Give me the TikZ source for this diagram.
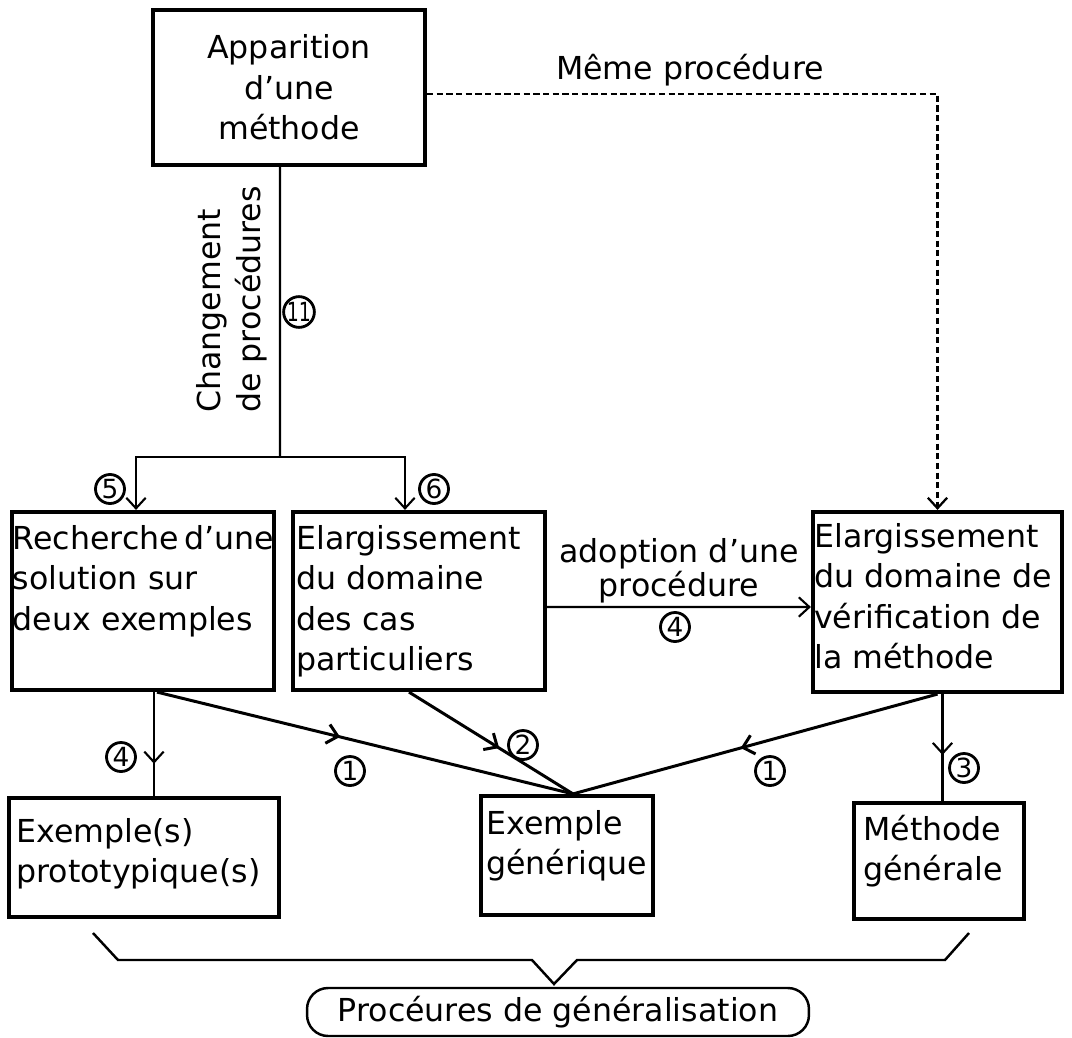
\documentclass[tikz,border=0pt]{standalone}
\usepackage{fontspec}
\setmainfont{DejaVu Sans}
\usetikzlibrary{arrows.meta,positioning,decorations.markings}
\newcommand{\bigtxt}{\fontsize{18}{23}\selectfont}
\tikzset{
  box/.style={draw,line width=2.4pt,inner sep=0pt},
  boxtext/.style={anchor=north west,align=left,inner sep=0pt,font=\bigtxt},
  numcirc/.style={circle,draw,line width=1.6pt,inner sep=0pt,minimum size=0.58cm,
    font=\fontsize{15}{15}\selectfont},
  arrow/.style={-{Straight Barb[length=6pt,width=11pt]},line width=1.2pt},
  link/.style={line width=#1,postaction={decorate}},
  link/.default=1.2pt,
  tipat/.style={decoration={markings,mark=at position #1 with
    {\arrow{Straight Barb[length=6pt,width=11pt]}}}}
}

\begin{document}
\begin{tikzpicture}[x=0.02cm,y=-0.02cm]
\useasboundingbox (0,0) rectangle (1072,1038);

% boxes
\node[box,minimum width=5.44cm,minimum height=3.1cm,align=center,font=\bigtxt]
  (appar) at (289,87.5) {Apparition\\d'une\\méthode};
\node[box,minimum width=5.24cm,minimum height=3.56cm] (search) at (143,601) {};
\node[box,minimum width=5.04cm,minimum height=3.56cm] (cases) at (419,601) {};
\node[box,minimum width=4.98cm,minimum height=3.6cm] (verif) at (937.5,602) {};
\node[box,minimum width=5.4cm,minimum height=2.38cm] (proto) at (144,857.5) {};
\node[box,minimum width=3.44cm,minimum height=2.38cm] (gener) at (567,855.5) {};
\node[box,minimum width=3.4cm,minimum height=2.32cm] (method) at (939,861) {};
\node[draw,rounded corners=0.42cm,line width=1.4pt,minimum width=10.04cm,
  minimum height=0.96cm,font=\bigtxt] (procs) at (558,1012)
  {Procéures de généralisation};

% texts in the boxes
\node[boxtext] (searchtxt) at ([xshift=0.05cm,yshift=-0.3cm]search.north west)
  {Recherche\kern3pt d'une\\solution sur\\deux exemples};
\node[boxtext] (casestxt) at ([xshift=0.1cm,yshift=-0.3cm]cases.north west)
  {Elargissement\\du domaine\\des cas\\particuliers};
\node[boxtext] (veriftxt) at ([xshift=0.06cm,yshift=-0.26cm]verif.north west)
  {Elargissement\\du domaine de\\vérification de\\la méthode};
\node[boxtext] (prototxt) at ([xshift=0.18cm,yshift=-0.44cm]proto.north west)
  {Exemple(s)\\prototypique(s)};
\node[boxtext] (genertxt) at ([xshift=0.14cm,yshift=-0.32cm]gener.north west)
  {Exemple\\générique};
\node[boxtext] (methodtxt) at ([xshift=0.22cm,yshift=-0.28cm]method.north west)
  {Méthode\\générale};

% labels
\node[rotate=90,align=left,anchor=west,inner sep=0pt,font=\bigtxt]
  (change) at (232,413) {Changement\\de procédures};
\node[font=\bigtxt] (same) at (690,70) {Même procédure};
\node[align=center,font=\fontsize{18}{19.5}\selectfont] (adopt) at (679,571)
  {adoption d'une\\procédure};

% circled numbers
\node[numcirc] (n11) at (299,312) {\scalebox{0.72}[1]{11}};
\node[numcirc] (n5) at (110,489) {5};
\node[numcirc] (n6) at (434,489) {6};
\node[numcirc] (n4a) at (675,627) {4};
\node[numcirc] (n4b) at (121,757) {4};
\node[numcirc] (n1a) at (350,771) {1};
\node[numcirc] (n2) at (523,745) {2};
\node[numcirc] (n1b) at (770,771) {1};
\node[numcirc] (n3) at (964,768) {3};

% connectors
\coordinate (fork) at (280,457);
\coordinate (apex) at ([xshift=0.12cm]gener.north);
\draw[line width=1.2pt] ([xshift=-0.18cm]appar.south) -- (fork);
\draw[arrow] (fork) -| ([xshift=-0.14cm]search.north);
\draw[arrow] (fork) -| ([xshift=-0.28cm]cases.north);
\draw[arrow,line width=1.3pt,dash pattern=on 3.5pt off 2pt] ([yshift=-0.13cm]appar.east) -| (verif.north);
\draw[arrow] ([yshift=-0.12cm]cases.east) -- ([yshift=-0.1cm]verif.west);
\draw[link,tipat=0.69] ([xshift=0.22cm]search.south) -- ([xshift=0.2cm]proto.north);
\draw[link=1.7pt,tipat=0.44] ([xshift=0.28cm]search.south) -- (apex);
\draw[link=1.7pt,tipat=0.55] ([xshift=-0.2cm]cases.south) -- (apex);
\draw[link=1.7pt,tipat=0.54] (verif.south) -- (apex);
\draw[link,tipat=0.57] ([xshift=0.1cm]verif.south) -- ([xshift=0.1cm]verif.south |- method.north);

% brace
\draw[line width=1.4pt] (93,933) -- (118,960) -- (532,960) -- (554,984)
  -- (577,960) -- (945,960) -- (969,933);

\end{tikzpicture}
\end{document}
